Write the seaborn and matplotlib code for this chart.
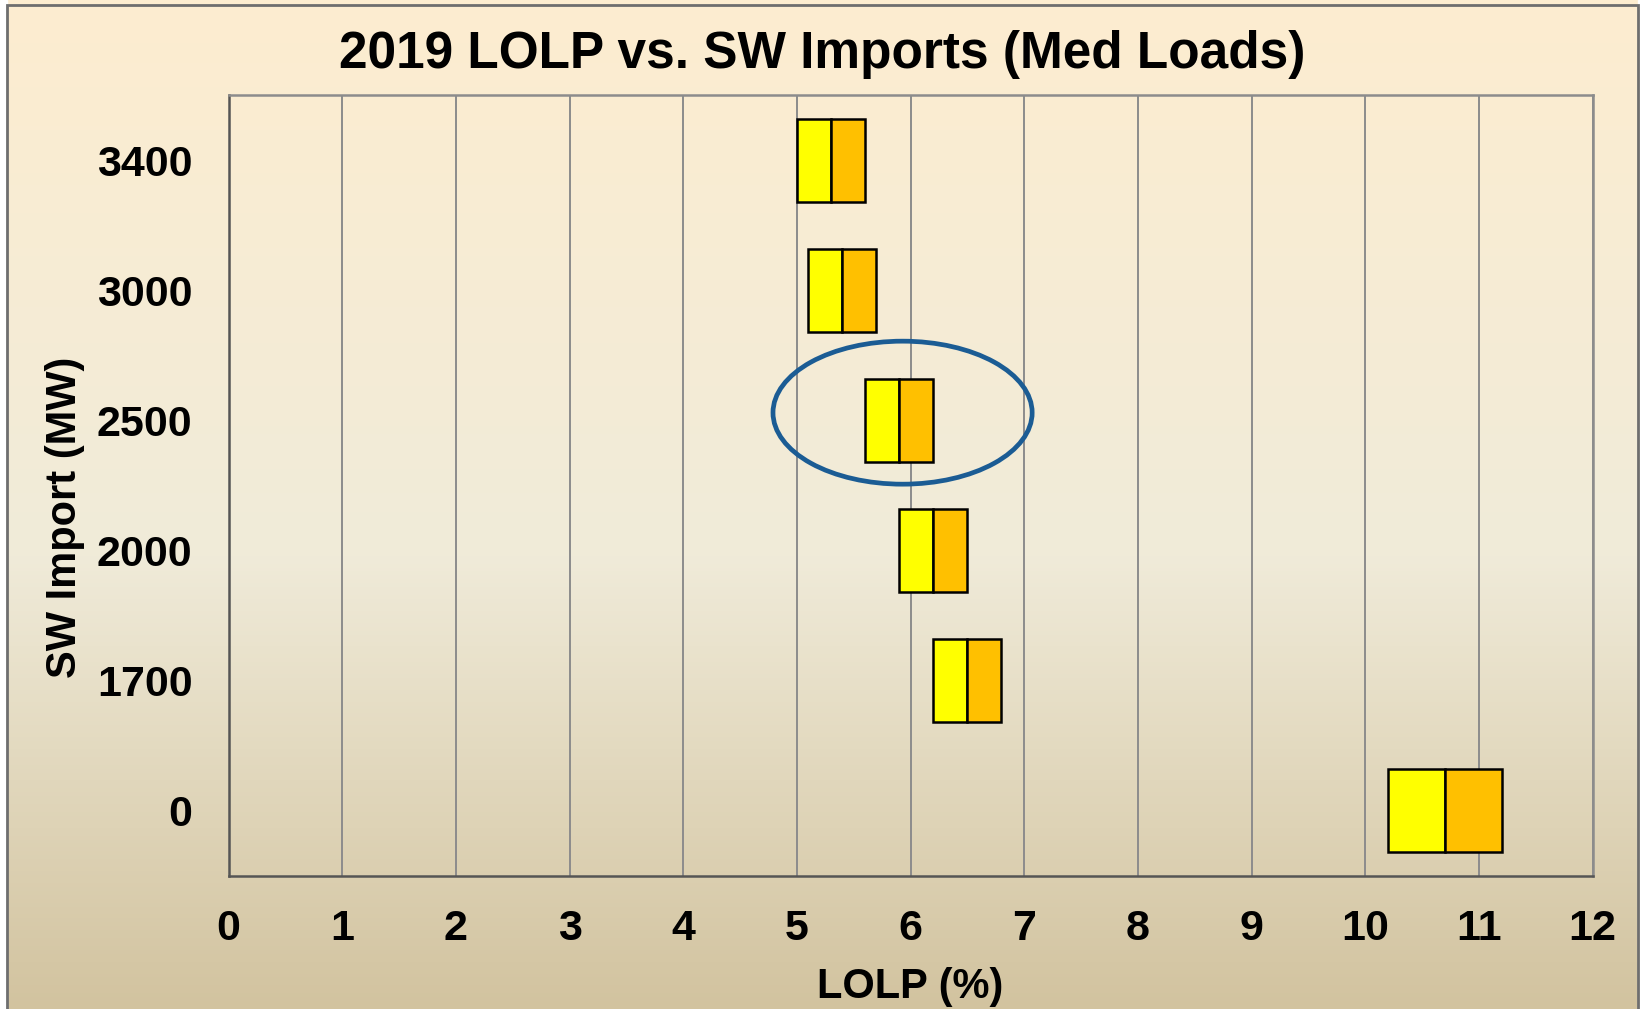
import matplotlib
matplotlib.use("Agg")
import matplotlib.pyplot as plt
import numpy as np
import pandas as pd
import seaborn as sns
from matplotlib.colors import LinearSegmentedColormap
from matplotlib.patches import Ellipse, Rectangle

# ============================================================
# Data
# ============================================================
imports = ["3400", "3000", "2500", "2000", "1700", "0"]
lolp_low = [5.0, 5.1, 5.6, 5.9, 6.2, 10.2]
lolp_mid = [5.3, 5.4, 5.9, 6.2, 6.5, 10.7]
lolp_high = [5.6, 5.7, 6.2, 6.5, 6.8, 11.2]
x_ticks = list(range(0, 13))

df = pd.DataFrame({
    "SW Import": imports,
    "low": lolp_low,
    "mid": lolp_mid,
    "high": lolp_high,
})
df["yellow_w"] = df["mid"] - df["low"]
df["orange_w"] = df["high"] - df["mid"]

# ============================================================
# Style
# ============================================================
sns.set_theme(style="white")
plt.rcParams["font.family"] = ["Liberation Sans", "DejaVu Sans"]
plt.rcParams["font.weight"] = "bold"
plt.rcParams["text.color"] = "black"

fig = plt.figure(figsize=(16.44, 10.09), dpi=100)

# gradient background
bg = fig.add_axes([0, 0, 1, 1], zorder=-10)
grad_cmap = LinearSegmentedColormap.from_list(
    "bg", [(0.0, "#FDEDD0"), (0.55, "#F0EBD9"), (1.0, "#D2C39F")]
)
bg.imshow(np.linspace(0, 1, 256).reshape(-1, 1), aspect="auto", cmap=grad_cmap,
          extent=[0, 1, 0, 1], origin="upper")
bg.set_xlim(0, 1)
bg.set_ylim(0, 1)
bg.axis("off")
# white strip at the left and right edges, plus frame
bg.add_patch(Rectangle((0, 0), 0.0043, 1, color="white", zorder=2))
bg.add_patch(Rectangle((0.9965, 0), 0.0035, 1, color="white", zorder=2))
bg.add_patch(Rectangle((0.0043, -0.01), 0.9922, 1.005, fill=False,
                       edgecolor="#6E6E6E", linewidth=2, zorder=3))

ax = fig.add_axes([0.139, 0.1323, 0.8297, 0.7731])
ax.set_facecolor("none")

sns.barplot(data=df, x="yellow_w", y="SW Import", left=df["low"].tolist(),
            color="#FFFF00", edgecolor="black", linewidth=1.8, width=0.645,
            saturation=1, errorbar=None, orient="h", ax=ax, zorder=3)
sns.barplot(data=df, x="orange_w", y="SW Import", left=df["mid"].tolist(),
            color="#FFC000", edgecolor="black", linewidth=1.8, width=0.645,
            saturation=1, errorbar=None, orient="h", ax=ax, zorder=3)

# highlight the 2500 MW case
ax.add_patch(Ellipse((5.93, 1.94), width=2.28, height=1.10, fill=False,
                     edgecolor="#1B5C94", linewidth=3.4, zorder=4))

ax.set_xlim(0, 12)
ax.set_ylim(5.5, -0.5)
ax.set_xticks(x_ticks)
ax.set_xticklabels([str(t) for t in x_ticks])
ax.xaxis.grid(True, color="#8C8C8C", linewidth=1.4)
ax.yaxis.grid(False)
ax.set_axisbelow(True)
ax.tick_params(axis="both", length=0, labelsize=31, labelcolor="black")
ax.tick_params(axis="x", pad=24)
ax.tick_params(axis="y", pad=26)
for lab in ax.get_xticklabels() + ax.get_yticklabels():
    lab.set_fontweight("bold")

for side in ["left", "bottom"]:
    ax.spines[side].set_color("#555555")
    ax.spines[side].set_linewidth(1.8)
for side in ["top", "right"]:
    ax.spines[side].set_color("#8C8C8C")
    ax.spines[side].set_linewidth(1.8)

ax.set_xlabel("")
ax.set_ylabel("")
fig.text(0.5535, 0.022, "LOLP (%)", ha="center", va="center",
         fontsize=30, fontweight="bold", color="black")
fig.text(0.0395, 0.4876, "SW Import (MW)", ha="center", va="center", rotation=90,
         fontsize=30, fontweight="bold", color="black")
fig.text(0.5004, 0.946, "2019 LOLP vs. SW Imports (Med Loads)", ha="center", va="center",
         fontsize=37, fontweight="bold", color="black")

plt.savefig("out.png", dpi=100)
plt.close()
